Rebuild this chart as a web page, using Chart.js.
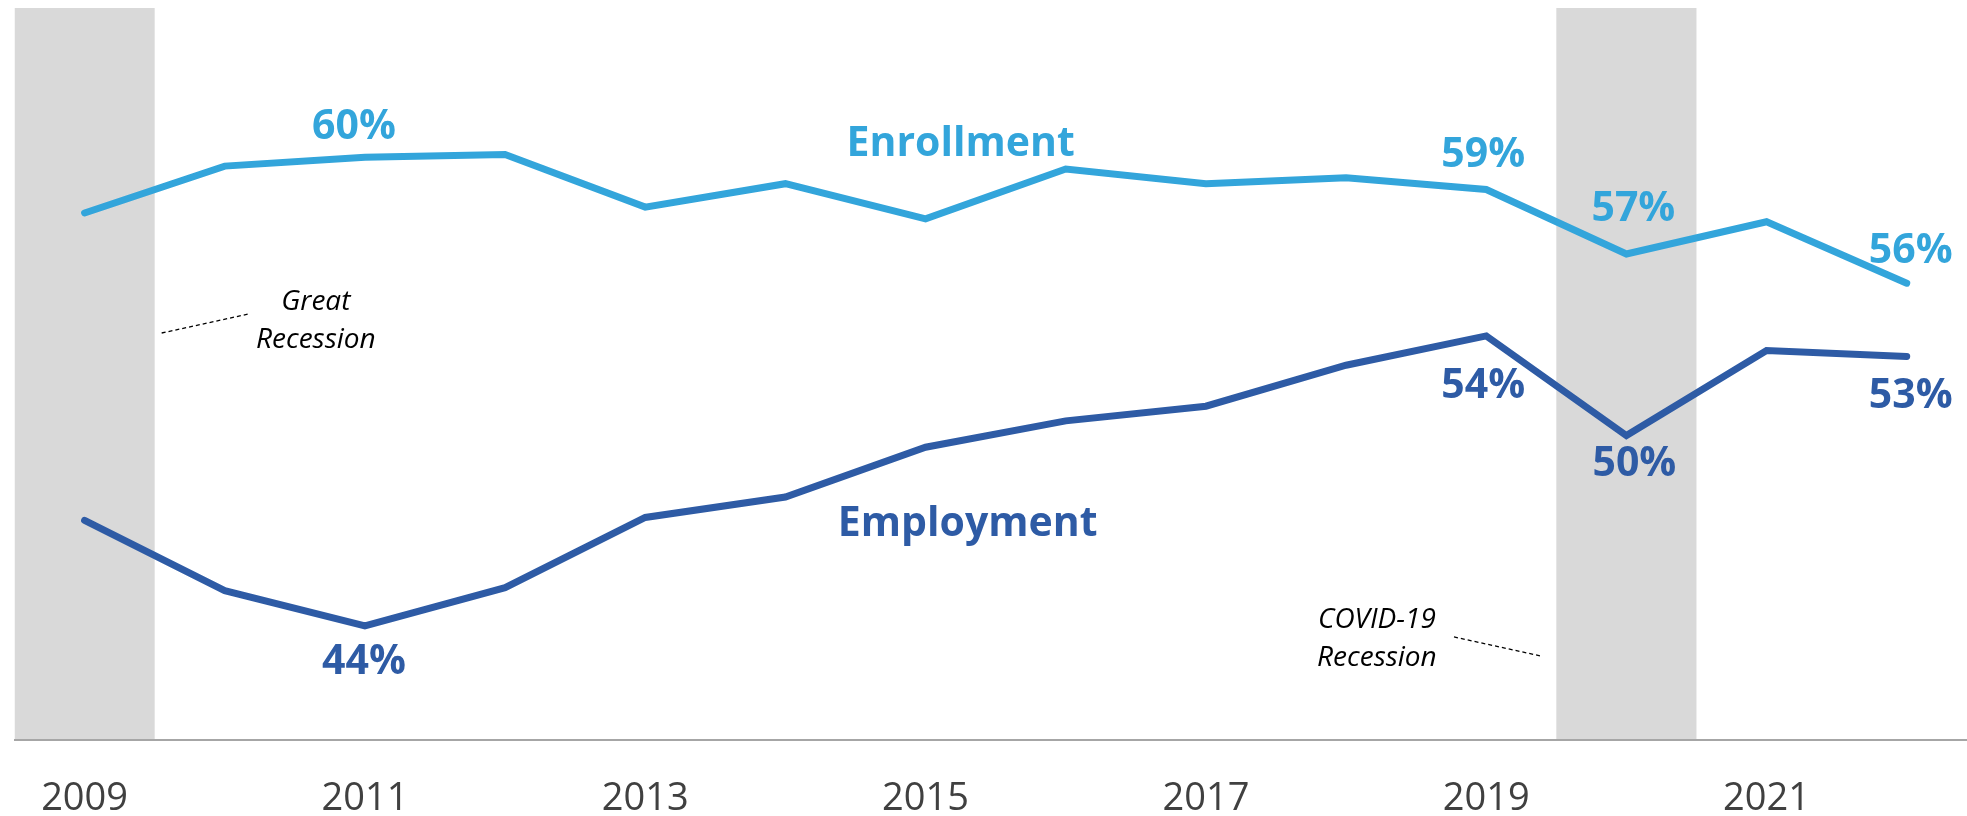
<!DOCTYPE html>
<html>
<head>
<meta charset="utf-8">
<title>Enrollment and Employment, 2009–2022</title>
<script src="https://cdn.jsdelivr.net/npm/chart.js@4.4.1/dist/chart.umd.min.js"></script>
<style>
  html, body { margin: 0; padding: 0; background: #ffffff; overflow: hidden; }
  #wrap { width: 1967px; height: 816px; }
</style>
</head>
<body>
<div id="wrap"><canvas id="chart" width="1967" height="816"></canvas></div>
<script>
// ---- data ----
const years = [2009, 2010, 2011, 2012, 2013, 2014, 2015, 2016, 2017, 2018, 2019, 2020, 2021, 2022];
const enrollment = [58.0, 59.6, 59.9, 60.0, 58.2, 59.0, 57.8, 59.5, 59.0, 59.2, 58.8, 56.6, 57.7, 55.6];
const employment = [47.5, 45.1, 43.9, 45.2, 47.6, 48.3, 50.0, 50.9, 51.4, 52.8, 53.8, 50.4, 53.3, 53.1];
const tickYears = [2009, 2011, 2013, 2015, 2017, 2019, 2021];
const enrollmentLabelYears = [2011, 2019, 2020, 2022];
const employmentLabelYears = [2011, 2019, 2020, 2022];
const recessionSpans = [[2008.5, 2009.5], [2019.5, 2020.5]];
const recessionNames = [["Great", "Recession"], ["COVID-19", "Recession"]];

// ---- styling ----
const FONT = "'Open Sans', 'Noto Sans', 'DejaVu Sans', sans-serif";
const LIGHT_BLUE = '#33a5db';
const DARK_BLUE = '#2e5ba5';
const BAND_GREY = '#d9d9d9';

// pixel nudges for each value label, [dx, dy] from its point
const labelNudge = {
  Enrollment: { 2011: [-11, -30], 2019: [-3, -34], 2020: [7, -45], 2022: [4, -32] },
  Employment: { 2011: [-1, 37], 2019: [-3, 50], 2020: [8, 29], 2022: [4, 40] }
};
// where the series names sit, in axis units
const seriesNameAt = {
  Enrollment: { x: 2015.25, y: 60.33 },
  Employment: { x: 2015.30, y: 47.35 }
};
// recession notes: text centre and leader line, in axis units
const noteLayout = [
  { x: 2010.65, y: 54.30, lead: [[2009.55, 53.90], [2010.17, 54.55]] },
  { x: 2018.22, y: 43.44, lead: [[2018.77, 43.52], [2019.39, 42.87]] }
];

// shaded recession periods, drawn beneath axis and lines
const recessionBands = {
  id: 'recessionBands',
  beforeDraw(chart) {
    const { ctx, chartArea: a, scales: { x } } = chart;
    ctx.save();
    ctx.beginPath();
    ctx.rect(a.left, a.top, a.right - a.left, a.bottom - a.top);
    ctx.clip();
    ctx.fillStyle = BAND_GREY;
    recessionSpans.forEach(([s, e]) => {
      const x0 = x.getPixelForValue(s);
      const x1 = x.getPixelForValue(e);
      ctx.fillRect(x0, a.top, x1 - x0, a.bottom - a.top);
    });
    ctx.restore();
  }
};

// recession notes with dashed leader lines
const recessionNotes = {
  id: 'recessionNotes',
  afterDatasetsDraw(chart) {
    const { ctx, scales: { x, y } } = chart;
    ctx.save();
    noteLayout.forEach((n, i) => {
      const cx = x.getPixelForValue(n.x);
      const cy = y.getPixelForValue(n.y);
      ctx.font = `italic 28px ${FONT}`;
      ctx.fillStyle = '#000000';
      ctx.textAlign = 'center';
      ctx.textBaseline = 'middle';
      const lines = recessionNames[i];
      const gap = 38;
      lines.forEach((t, k) => {
        ctx.fillText(t, cx, cy + (k - (lines.length - 1) / 2) * gap);
      });
      ctx.beginPath();
      ctx.setLineDash([4, 3]);
      ctx.lineWidth = 1.3;
      ctx.strokeStyle = '#000000';
      ctx.moveTo(x.getPixelForValue(n.lead[0][0]), y.getPixelForValue(n.lead[0][1]));
      ctx.lineTo(x.getPixelForValue(n.lead[1][0]), y.getPixelForValue(n.lead[1][1]));
      ctx.stroke();
      ctx.setLineDash([]);
    });
    ctx.restore();
  }
};

// percent labels on selected points, plus the series names
const valueLabels = {
  id: 'valueLabels',
  afterDatasetsDraw(chart) {
    const { ctx, scales: { x, y } } = chart;
    ctx.save();
    ctx.textAlign = 'center';
    ctx.textBaseline = 'middle';
    chart.data.datasets.forEach((ds, di) => {
      const meta = chart.getDatasetMeta(di);
      ctx.fillStyle = ds.borderColor;
      ctx.font = `bold 41px ${FONT}`;
      ds.labelYears.forEach(yr => {
        const idx = years.indexOf(yr);
        const pt = meta.data[idx];
        const [dx, dy] = labelNudge[ds.label][yr];
        ctx.fillText(Math.round(ds.data[idx].y) + '%', pt.x + dx, pt.y + dy);
      });
      const nm = seriesNameAt[ds.label];
      ctx.fillText(ds.label, x.getPixelForValue(nm.x), y.getPixelForValue(nm.y));
    });
    ctx.restore();
  }
};

new Chart(document.getElementById('chart'), {
  type: 'line',
  data: {
    datasets: [
      {
        label: 'Enrollment',
        data: years.map((yr, i) => ({ x: yr, y: enrollment[i] })),
        labelYears: enrollmentLabelYears,
        borderColor: LIGHT_BLUE,
        borderWidth: 7,
        borderCapStyle: 'round',
        borderJoinStyle: 'miter',
        pointRadius: 0,
        tension: 0
      },
      {
        label: 'Employment',
        data: years.map((yr, i) => ({ x: yr, y: employment[i] })),
        labelYears: employmentLabelYears,
        borderColor: DARK_BLUE,
        borderWidth: 7,
        borderCapStyle: 'round',
        borderJoinStyle: 'miter',
        pointRadius: 0,
        tension: 0
      }
    ]
  },
  options: {
    responsive: false,
    animation: false,
    devicePixelRatio: 1,
    layout: { padding: { left: 14.5, right: 0, top: 8, bottom: 0 } },
    plugins: {
      legend: { display: false },
      tooltip: { enabled: false }
    },
    scales: {
      x: {
        type: 'linear',
        min: 2008.5,
        max: 2022.43,
        grid: { display: false, drawTicks: false },
        border: { display: true, color: '#a6a6a6', width: 2 },
        afterBuildTicks(scale) {
          scale.ticks = tickYears.map(v => ({ value: v }));
        },
        afterFit(scale) {
          scale.height = 76;
        },
        ticks: {
          padding: 40,
          color: '#404040',
          font: { family: FONT, size: 38, lineHeight: 1 },
          maxRotation: 0,
          autoSkip: false,
          callback: v => String(v)
        }
      },
      y: {
        type: 'linear',
        min: 40,
        max: 65,
        display: false
      }
    }
  },
  plugins: [recessionBands, valueLabels, recessionNotes]
});
</script>
</body>
</html>
